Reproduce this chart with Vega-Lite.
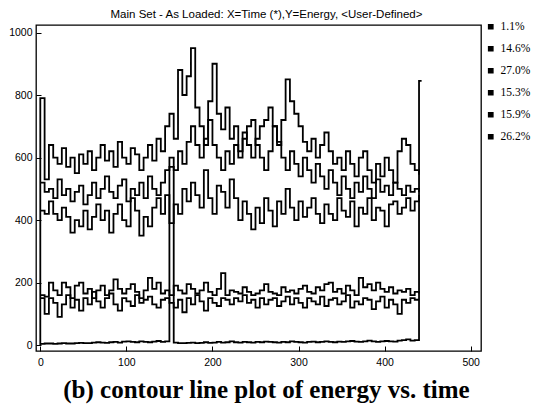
{
  "$schema": "https://vega.github.io/schema/vega-lite/v6.json",
  "autosize": {"type": "none"},
  "width": 445,
  "height": 326,
  "padding": {"left": 36, "top": 25, "right": 53, "bottom": 65},
  "title": {"text": "Main Set - As Loaded: X=Time (*),Y=Energy, <User-Defined>", "fontSize": 11.5, "font": "Liberation Sans", "fontWeight": "normal", "anchor": "middle", "offset": 1, "dx": 8, "color": "black"},
  "config": {"view": {"stroke": "black", "strokeWidth": 1.3}, "axis": {"grid": false, "domainColor": "black", "tickColor": "black", "labelColor": "black", "labelFont": "Liberation Sans", "labelFontSize": 10.5}},
  "datasets": {
    "d": [
      {"s":"1.1%","t":0,"e":4},{"s":"1.1%","t":5,"e":5},{"s":"1.1%","t":10,"e":5},{"s":"1.1%","t":15,"e":4},{"s":"1.1%","t":20,"e":5},{"s":"1.1%","t":25,"e":6},{"s":"1.1%","t":30,"e":5},{"s":"1.1%","t":35,"e":5},{"s":"1.1%","t":40,"e":6},{"s":"1.1%","t":45,"e":7},{"s":"1.1%","t":50,"e":6},{"s":"1.1%","t":55,"e":6},{"s":"1.1%","t":60,"e":8},{"s":"1.1%","t":65,"e":9},{"s":"1.1%","t":70,"e":8},{"s":"1.1%","t":75,"e":7},{"s":"1.1%","t":80,"e":9},{"s":"1.1%","t":85,"e":10},{"s":"1.1%","t":90,"e":8},{"s":"1.1%","t":95,"e":11},{"s":"1.1%","t":100,"e":12},{"s":"1.1%","t":105,"e":10},{"s":"1.1%","t":110,"e":9},{"s":"1.1%","t":115,"e":12},{"s":"1.1%","t":120,"e":10},{"s":"1.1%","t":125,"e":9},{"s":"1.1%","t":130,"e":11},{"s":"1.1%","t":135,"e":13},{"s":"1.1%","t":140,"e":10},{"s":"1.1%","t":145,"e":12},{"s":"1.1%","t":150,"e":570},{"s":"1.1%","t":155,"e":8},{"s":"1.1%","t":160,"e":6},{"s":"1.1%","t":165,"e":6},{"s":"1.1%","t":170,"e":7},{"s":"1.1%","t":175,"e":8},{"s":"1.1%","t":180,"e":6},{"s":"1.1%","t":185,"e":7},{"s":"1.1%","t":190,"e":9},{"s":"1.1%","t":195,"e":7},{"s":"1.1%","t":200,"e":8},{"s":"1.1%","t":205,"e":10},{"s":"1.1%","t":210,"e":8},{"s":"1.1%","t":215,"e":9},{"s":"1.1%","t":220,"e":12},{"s":"1.1%","t":225,"e":9},{"s":"1.1%","t":230,"e":8},{"s":"1.1%","t":235,"e":10},{"s":"1.1%","t":240,"e":9},{"s":"1.1%","t":245,"e":8},{"s":"1.1%","t":250,"e":10},{"s":"1.1%","t":255,"e":9},{"s":"1.1%","t":260,"e":11},{"s":"1.1%","t":265,"e":10},{"s":"1.1%","t":270,"e":9},{"s":"1.1%","t":275,"e":8},{"s":"1.1%","t":280,"e":10},{"s":"1.1%","t":285,"e":9},{"s":"1.1%","t":290,"e":12},{"s":"1.1%","t":295,"e":10},{"s":"1.1%","t":300,"e":9},{"s":"1.1%","t":305,"e":8},{"s":"1.1%","t":310,"e":10},{"s":"1.1%","t":315,"e":11},{"s":"1.1%","t":320,"e":9},{"s":"1.1%","t":325,"e":10},{"s":"1.1%","t":330,"e":12},{"s":"1.1%","t":335,"e":10},{"s":"1.1%","t":340,"e":9},{"s":"1.1%","t":345,"e":11},{"s":"1.1%","t":350,"e":10},{"s":"1.1%","t":355,"e":12},{"s":"1.1%","t":360,"e":13},{"s":"1.1%","t":365,"e":11},{"s":"1.1%","t":370,"e":10},{"s":"1.1%","t":375,"e":12},{"s":"1.1%","t":380,"e":14},{"s":"1.1%","t":385,"e":12},{"s":"1.1%","t":390,"e":10},{"s":"1.1%","t":395,"e":12},{"s":"1.1%","t":400,"e":13},{"s":"1.1%","t":405,"e":12},{"s":"1.1%","t":410,"e":11},{"s":"1.1%","t":415,"e":14},{"s":"1.1%","t":420,"e":16},{"s":"1.1%","t":425,"e":18},{"s":"1.1%","t":430,"e":14},{"s":"1.1%","t":435,"e":16},{"s":"1.1%","t":440,"e":845},{"s":"1.1%","t":443,"e":845},

      {"s":"14.6%","t":0,"e":150},{"s":"14.6%","t":5,"e":100},{"s":"14.6%","t":10,"e":150},{"s":"14.6%","t":15,"e":135},{"s":"14.6%","t":20,"e":90},{"s":"14.6%","t":25,"e":130},{"s":"14.6%","t":30,"e":160},{"s":"14.6%","t":35,"e":120},{"s":"14.6%","t":40,"e":145},{"s":"14.6%","t":45,"e":110},{"s":"14.6%","t":50,"e":150},{"s":"14.6%","t":55,"e":130},{"s":"14.6%","t":60,"e":170},{"s":"14.6%","t":65,"e":140},{"s":"14.6%","t":70,"e":120},{"s":"14.6%","t":75,"e":150},{"s":"14.6%","t":80,"e":165},{"s":"14.6%","t":85,"e":130},{"s":"14.6%","t":90,"e":110},{"s":"14.6%","t":95,"e":150},{"s":"14.6%","t":100,"e":140},{"s":"14.6%","t":105,"e":125},{"s":"14.6%","t":110,"e":160},{"s":"14.6%","t":115,"e":135},{"s":"14.6%","t":120,"e":145},{"s":"14.6%","t":125,"e":155},{"s":"14.6%","t":130,"e":130},{"s":"14.6%","t":135,"e":120},{"s":"14.6%","t":140,"e":145},{"s":"14.6%","t":145,"e":150},{"s":"14.6%","t":150,"e":135},{"s":"14.6%","t":155,"e":120},{"s":"14.6%","t":160,"e":145},{"s":"14.6%","t":165,"e":105},{"s":"14.6%","t":170,"e":150},{"s":"14.6%","t":175,"e":130},{"s":"14.6%","t":180,"e":160},{"s":"14.6%","t":185,"e":140},{"s":"14.6%","t":190,"e":110},{"s":"14.6%","t":195,"e":150},{"s":"14.6%","t":200,"e":135},{"s":"14.6%","t":205,"e":125},{"s":"14.6%","t":210,"e":150},{"s":"14.6%","t":215,"e":145},{"s":"14.6%","t":220,"e":130},{"s":"14.6%","t":225,"e":150},{"s":"14.6%","t":230,"e":140},{"s":"14.6%","t":235,"e":160},{"s":"14.6%","t":240,"e":135},{"s":"14.6%","t":245,"e":145},{"s":"14.6%","t":250,"e":120},{"s":"14.6%","t":255,"e":150},{"s":"14.6%","t":260,"e":130},{"s":"14.6%","t":265,"e":145},{"s":"14.6%","t":270,"e":150},{"s":"14.6%","t":275,"e":125},{"s":"14.6%","t":280,"e":140},{"s":"14.6%","t":285,"e":155},{"s":"14.6%","t":290,"e":130},{"s":"14.6%","t":295,"e":150},{"s":"14.6%","t":300,"e":135},{"s":"14.6%","t":305,"e":120},{"s":"14.6%","t":310,"e":150},{"s":"14.6%","t":315,"e":140},{"s":"14.6%","t":320,"e":130},{"s":"14.6%","t":325,"e":155},{"s":"14.6%","t":330,"e":125},{"s":"14.6%","t":335,"e":145},{"s":"14.6%","t":340,"e":150},{"s":"14.6%","t":345,"e":130},{"s":"14.6%","t":350,"e":140},{"s":"14.6%","t":355,"e":160},{"s":"14.6%","t":360,"e":120},{"s":"14.6%","t":365,"e":140},{"s":"14.6%","t":370,"e":130},{"s":"14.6%","t":375,"e":150},{"s":"14.6%","t":380,"e":145},{"s":"14.6%","t":385,"e":115},{"s":"14.6%","t":390,"e":140},{"s":"14.6%","t":395,"e":155},{"s":"14.6%","t":400,"e":120},{"s":"14.6%","t":405,"e":145},{"s":"14.6%","t":410,"e":130},{"s":"14.6%","t":415,"e":100},{"s":"14.6%","t":420,"e":145},{"s":"14.6%","t":425,"e":135},{"s":"14.6%","t":430,"e":150},{"s":"14.6%","t":435,"e":145},{"s":"14.6%","t":440,"e":145},

      {"s":"15.3%","t":0,"e":160},{"s":"15.3%","t":5,"e":155},{"s":"15.3%","t":10,"e":200},{"s":"15.3%","t":15,"e":175},{"s":"15.3%","t":20,"e":160},{"s":"15.3%","t":25,"e":200},{"s":"15.3%","t":30,"e":185},{"s":"15.3%","t":35,"e":150},{"s":"15.3%","t":40,"e":190},{"s":"15.3%","t":45,"e":200},{"s":"15.3%","t":50,"e":165},{"s":"15.3%","t":55,"e":180},{"s":"15.3%","t":60,"e":150},{"s":"15.3%","t":65,"e":175},{"s":"15.3%","t":70,"e":190},{"s":"15.3%","t":75,"e":160},{"s":"15.3%","t":80,"e":175},{"s":"15.3%","t":85,"e":210},{"s":"15.3%","t":90,"e":180},{"s":"15.3%","t":95,"e":165},{"s":"15.3%","t":100,"e":180},{"s":"15.3%","t":105,"e":195},{"s":"15.3%","t":110,"e":170},{"s":"15.3%","t":115,"e":150},{"s":"15.3%","t":120,"e":175},{"s":"15.3%","t":125,"e":215},{"s":"15.3%","t":130,"e":180},{"s":"15.3%","t":135,"e":200},{"s":"15.3%","t":140,"e":165},{"s":"15.3%","t":145,"e":175},{"s":"15.3%","t":150,"e":160},{"s":"15.3%","t":155,"e":190},{"s":"15.3%","t":160,"e":175},{"s":"15.3%","t":165,"e":165},{"s":"15.3%","t":170,"e":195},{"s":"15.3%","t":175,"e":180},{"s":"15.3%","t":180,"e":165},{"s":"15.3%","t":185,"e":175},{"s":"15.3%","t":190,"e":200},{"s":"15.3%","t":195,"e":170},{"s":"15.3%","t":200,"e":160},{"s":"15.3%","t":205,"e":180},{"s":"15.3%","t":210,"e":230},{"s":"15.3%","t":215,"e":160},{"s":"15.3%","t":220,"e":175},{"s":"15.3%","t":225,"e":170},{"s":"15.3%","t":230,"e":165},{"s":"15.3%","t":235,"e":185},{"s":"15.3%","t":240,"e":170},{"s":"15.3%","t":245,"e":160},{"s":"15.3%","t":250,"e":165},{"s":"15.3%","t":255,"e":175},{"s":"15.3%","t":260,"e":195},{"s":"15.3%","t":265,"e":170},{"s":"15.3%","t":270,"e":165},{"s":"15.3%","t":275,"e":160},{"s":"15.3%","t":280,"e":185},{"s":"15.3%","t":285,"e":170},{"s":"15.3%","t":290,"e":175},{"s":"15.3%","t":295,"e":165},{"s":"15.3%","t":300,"e":180},{"s":"15.3%","t":305,"e":190},{"s":"15.3%","t":310,"e":170},{"s":"15.3%","t":315,"e":165},{"s":"15.3%","t":320,"e":185},{"s":"15.3%","t":325,"e":175},{"s":"15.3%","t":330,"e":195},{"s":"15.3%","t":335,"e":200},{"s":"15.3%","t":340,"e":170},{"s":"15.3%","t":345,"e":180},{"s":"15.3%","t":350,"e":165},{"s":"15.3%","t":355,"e":190},{"s":"15.3%","t":360,"e":175},{"s":"15.3%","t":365,"e":160},{"s":"15.3%","t":370,"e":215},{"s":"15.3%","t":375,"e":185},{"s":"15.3%","t":380,"e":195},{"s":"15.3%","t":385,"e":175},{"s":"15.3%","t":390,"e":200},{"s":"15.3%","t":395,"e":180},{"s":"15.3%","t":400,"e":170},{"s":"15.3%","t":405,"e":185},{"s":"15.3%","t":410,"e":165},{"s":"15.3%","t":415,"e":175},{"s":"15.3%","t":420,"e":170},{"s":"15.3%","t":425,"e":180},{"s":"15.3%","t":430,"e":160},{"s":"15.3%","t":435,"e":170},{"s":"15.3%","t":440,"e":165},

      {"s":"27.0%","t":0,"e":430},{"s":"27.0%","t":5,"e":420},{"s":"27.0%","t":10,"e":460},{"s":"27.0%","t":15,"e":420},{"s":"27.0%","t":20,"e":400},{"s":"27.0%","t":25,"e":440},{"s":"27.0%","t":30,"e":410},{"s":"27.0%","t":35,"e":360},{"s":"27.0%","t":40,"e":400},{"s":"27.0%","t":45,"e":380},{"s":"27.0%","t":50,"e":430},{"s":"27.0%","t":55,"e":370},{"s":"27.0%","t":60,"e":410},{"s":"27.0%","t":65,"e":450},{"s":"27.0%","t":70,"e":400},{"s":"27.0%","t":75,"e":430},{"s":"27.0%","t":80,"e":360},{"s":"27.0%","t":85,"e":420},{"s":"27.0%","t":90,"e":450},{"s":"27.0%","t":95,"e":400},{"s":"27.0%","t":100,"e":380},{"s":"27.0%","t":105,"e":470},{"s":"27.0%","t":110,"e":430},{"s":"27.0%","t":115,"e":350},{"s":"27.0%","t":120,"e":410},{"s":"27.0%","t":125,"e":380},{"s":"27.0%","t":130,"e":440},{"s":"27.0%","t":135,"e":470},{"s":"27.0%","t":140,"e":420},{"s":"27.0%","t":145,"e":480},{"s":"27.0%","t":150,"e":390},{"s":"27.0%","t":155,"e":450},{"s":"27.0%","t":160,"e":420},{"s":"27.0%","t":165,"e":500},{"s":"27.0%","t":170,"e":460},{"s":"27.0%","t":175,"e":520},{"s":"27.0%","t":180,"e":480},{"s":"27.0%","t":185,"e":440},{"s":"27.0%","t":190,"e":560},{"s":"27.0%","t":195,"e":470},{"s":"27.0%","t":200,"e":420},{"s":"27.0%","t":205,"e":510},{"s":"27.0%","t":210,"e":490},{"s":"27.0%","t":215,"e":440},{"s":"27.0%","t":220,"e":530},{"s":"27.0%","t":225,"e":470},{"s":"27.0%","t":230,"e":400},{"s":"27.0%","t":235,"e":460},{"s":"27.0%","t":240,"e":420},{"s":"27.0%","t":245,"e":370},{"s":"27.0%","t":250,"e":440},{"s":"27.0%","t":255,"e":390},{"s":"27.0%","t":260,"e":470},{"s":"27.0%","t":265,"e":430},{"s":"27.0%","t":270,"e":380},{"s":"27.0%","t":275,"e":460},{"s":"27.0%","t":280,"e":420},{"s":"27.0%","t":285,"e":500},{"s":"27.0%","t":290,"e":440},{"s":"27.0%","t":295,"e":400},{"s":"27.0%","t":300,"e":460},{"s":"27.0%","t":305,"e":410},{"s":"27.0%","t":310,"e":440},{"s":"27.0%","t":315,"e":470},{"s":"27.0%","t":320,"e":420},{"s":"27.0%","t":325,"e":390},{"s":"27.0%","t":330,"e":450},{"s":"27.0%","t":335,"e":420},{"s":"27.0%","t":340,"e":400},{"s":"27.0%","t":345,"e":470},{"s":"27.0%","t":350,"e":430},{"s":"27.0%","t":355,"e":410},{"s":"27.0%","t":360,"e":460},{"s":"27.0%","t":365,"e":380},{"s":"27.0%","t":370,"e":440},{"s":"27.0%","t":375,"e":420},{"s":"27.0%","t":380,"e":470},{"s":"27.0%","t":385,"e":400},{"s":"27.0%","t":390,"e":440},{"s":"27.0%","t":395,"e":430},{"s":"27.0%","t":400,"e":380},{"s":"27.0%","t":405,"e":450},{"s":"27.0%","t":410,"e":460},{"s":"27.0%","t":415,"e":420},{"s":"27.0%","t":420,"e":440},{"s":"27.0%","t":425,"e":470},{"s":"27.0%","t":430,"e":430},{"s":"27.0%","t":435,"e":460},{"s":"27.0%","t":440,"e":480},

      {"s":"15.9%","t":0,"e":520},{"s":"15.9%","t":5,"e":490},{"s":"15.9%","t":10,"e":500},{"s":"15.9%","t":15,"e":470},{"s":"15.9%","t":20,"e":530},{"s":"15.9%","t":25,"e":480},{"s":"15.9%","t":30,"e":500},{"s":"15.9%","t":35,"e":460},{"s":"15.9%","t":40,"e":490},{"s":"15.9%","t":45,"e":510},{"s":"15.9%","t":50,"e":450},{"s":"15.9%","t":55,"e":480},{"s":"15.9%","t":60,"e":520},{"s":"15.9%","t":65,"e":470},{"s":"15.9%","t":70,"e":500},{"s":"15.9%","t":75,"e":540},{"s":"15.9%","t":80,"e":490},{"s":"15.9%","t":85,"e":470},{"s":"15.9%","t":90,"e":510},{"s":"15.9%","t":95,"e":530},{"s":"15.9%","t":100,"e":460},{"s":"15.9%","t":105,"e":500},{"s":"15.9%","t":110,"e":480},{"s":"15.9%","t":115,"e":520},{"s":"15.9%","t":120,"e":470},{"s":"15.9%","t":125,"e":540},{"s":"15.9%","t":130,"e":500},{"s":"15.9%","t":135,"e":480},{"s":"15.9%","t":140,"e":520},{"s":"15.9%","t":145,"e":560},{"s":"15.9%","t":150,"e":600},{"s":"15.9%","t":155,"e":560},{"s":"15.9%","t":160,"e":620},{"s":"15.9%","t":165,"e":580},{"s":"15.9%","t":170,"e":650},{"s":"15.9%","t":175,"e":700},{"s":"15.9%","t":180,"e":640},{"s":"15.9%","t":185,"e":600},{"s":"15.9%","t":190,"e":660},{"s":"15.9%","t":195,"e":720},{"s":"15.9%","t":200,"e":640},{"s":"15.9%","t":205,"e":600},{"s":"15.9%","t":210,"e":560},{"s":"15.9%","t":215,"e":620},{"s":"15.9%","t":220,"e":580},{"s":"15.9%","t":225,"e":640},{"s":"15.9%","t":230,"e":600},{"s":"15.9%","t":235,"e":660},{"s":"15.9%","t":240,"e":700},{"s":"15.9%","t":245,"e":720},{"s":"15.9%","t":250,"e":640},{"s":"15.9%","t":255,"e":600},{"s":"15.9%","t":260,"e":560},{"s":"15.9%","t":265,"e":620},{"s":"15.9%","t":270,"e":700},{"s":"15.9%","t":275,"e":650},{"s":"15.9%","t":280,"e":600},{"s":"15.9%","t":285,"e":560},{"s":"15.9%","t":290,"e":620},{"s":"15.9%","t":295,"e":580},{"s":"15.9%","t":300,"e":540},{"s":"15.9%","t":305,"e":600},{"s":"15.9%","t":310,"e":560},{"s":"15.9%","t":315,"e":520},{"s":"15.9%","t":320,"e":580},{"s":"15.9%","t":325,"e":540},{"s":"15.9%","t":330,"e":500},{"s":"15.9%","t":335,"e":560},{"s":"15.9%","t":340,"e":520},{"s":"15.9%","t":345,"e":480},{"s":"15.9%","t":350,"e":540},{"s":"15.9%","t":355,"e":500},{"s":"15.9%","t":360,"e":470},{"s":"15.9%","t":365,"e":520},{"s":"15.9%","t":370,"e":490},{"s":"15.9%","t":375,"e":540},{"s":"15.9%","t":380,"e":500},{"s":"15.9%","t":385,"e":470},{"s":"15.9%","t":390,"e":530},{"s":"15.9%","t":395,"e":490},{"s":"15.9%","t":400,"e":510},{"s":"15.9%","t":405,"e":480},{"s":"15.9%","t":410,"e":520},{"s":"15.9%","t":415,"e":500},{"s":"15.9%","t":420,"e":480},{"s":"15.9%","t":425,"e":510},{"s":"15.9%","t":430,"e":490},{"s":"15.9%","t":435,"e":500},{"s":"15.9%","t":440,"e":490},

      {"s":"26.2%","t":0,"e":0},{"s":"26.2%","t":0,"e":790},{"s":"26.2%","t":5,"e":530},{"s":"26.2%","t":10,"e":640},{"s":"26.2%","t":15,"e":600},{"s":"26.2%","t":20,"e":580},{"s":"26.2%","t":25,"e":630},{"s":"26.2%","t":30,"e":570},{"s":"26.2%","t":35,"e":600},{"s":"26.2%","t":40,"e":550},{"s":"26.2%","t":45,"e":610},{"s":"26.2%","t":50,"e":580},{"s":"26.2%","t":55,"e":620},{"s":"26.2%","t":60,"e":560},{"s":"26.2%","t":65,"e":600},{"s":"26.2%","t":70,"e":640},{"s":"26.2%","t":75,"e":590},{"s":"26.2%","t":80,"e":620},{"s":"26.2%","t":85,"e":570},{"s":"26.2%","t":90,"e":650},{"s":"26.2%","t":95,"e":600},{"s":"26.2%","t":100,"e":580},{"s":"26.2%","t":105,"e":630},{"s":"26.2%","t":110,"e":610},{"s":"26.2%","t":115,"e":560},{"s":"26.2%","t":120,"e":600},{"s":"26.2%","t":125,"e":640},{"s":"26.2%","t":130,"e":590},{"s":"26.2%","t":135,"e":660},{"s":"26.2%","t":140,"e":620},{"s":"26.2%","t":145,"e":700},{"s":"26.2%","t":150,"e":740},{"s":"26.2%","t":155,"e":660},{"s":"26.2%","t":160,"e":880},{"s":"26.2%","t":165,"e":800},{"s":"26.2%","t":170,"e":860},{"s":"26.2%","t":175,"e":950},{"s":"26.2%","t":180,"e":760},{"s":"26.2%","t":185,"e":700},{"s":"26.2%","t":190,"e":640},{"s":"26.2%","t":195,"e":780},{"s":"26.2%","t":200,"e":900},{"s":"26.2%","t":205,"e":740},{"s":"26.2%","t":210,"e":690},{"s":"26.2%","t":215,"e":760},{"s":"26.2%","t":220,"e":660},{"s":"26.2%","t":225,"e":700},{"s":"26.2%","t":230,"e":620},{"s":"26.2%","t":235,"e":680},{"s":"26.2%","t":240,"e":640},{"s":"26.2%","t":245,"e":600},{"s":"26.2%","t":250,"e":660},{"s":"26.2%","t":255,"e":700},{"s":"26.2%","t":260,"e":720},{"s":"26.2%","t":265,"e":760},{"s":"26.2%","t":270,"e":700},{"s":"26.2%","t":275,"e":640},{"s":"26.2%","t":280,"e":720},{"s":"26.2%","t":285,"e":850},{"s":"26.2%","t":290,"e":780},{"s":"26.2%","t":295,"e":740},{"s":"26.2%","t":300,"e":700},{"s":"26.2%","t":305,"e":650},{"s":"26.2%","t":310,"e":620},{"s":"26.2%","t":315,"e":660},{"s":"26.2%","t":320,"e":600},{"s":"26.2%","t":325,"e":640},{"s":"26.2%","t":330,"e":680},{"s":"26.2%","t":335,"e":620},{"s":"26.2%","t":340,"e":580},{"s":"26.2%","t":345,"e":600},{"s":"26.2%","t":350,"e":560},{"s":"26.2%","t":355,"e":620},{"s":"26.2%","t":360,"e":580},{"s":"26.2%","t":365,"e":540},{"s":"26.2%","t":370,"e":600},{"s":"26.2%","t":375,"e":620},{"s":"26.2%","t":380,"e":560},{"s":"26.2%","t":385,"e":520},{"s":"26.2%","t":390,"e":580},{"s":"26.2%","t":395,"e":540},{"s":"26.2%","t":400,"e":600},{"s":"26.2%","t":405,"e":560},{"s":"26.2%","t":410,"e":520},{"s":"26.2%","t":415,"e":620},{"s":"26.2%","t":420,"e":660},{"s":"26.2%","t":425,"e":640},{"s":"26.2%","t":430,"e":580},{"s":"26.2%","t":435,"e":560},{"s":"26.2%","t":440,"e":545}
    ]
  },
  "data": {"name": "d"},
  "mark": {"type": "line", "interpolate": "step-after", "strokeWidth": 1.8},
  "encoding": {
    "x": {"field": "t", "type": "quantitative", "scale": {"domain": [-5, 512], "nice": false, "zero": false}, "axis": {"values": [0, 100, 200, 300, 400, 500], "format": "d", "tickSize": -5, "labelPadding": 11, "domain": false, "title": "(b) contour line plot of energy vs. time", "titleFont": "Liberation Serif", "titleFontSize": 25, "titleFontWeight": "bold", "titleColor": "black", "titleX": 230, "titleY": 46, "titleAlign": "center", "titleBaseline": "alphabetic", "titleAnchor": null}},
    "y": {"field": "e", "type": "quantitative", "scale": {"domain": [-19, 1024], "nice": false, "zero": false}, "axis": {"values": [0, 200, 400, 600, 800, 1000], "format": "d", "tickSize": -5, "labelPadding": 9, "domain": false, "title": null}},
    "detail": {"field": "s", "type": "nominal"},
    "color": {"field": "s", "type": "nominal", "scale": {"domain": ["1.1%", "14.6%", "27.0%", "15.3%", "15.9%", "26.2%"], "range": ["black", "black", "black", "black", "black", "black"]}, "legend": {"title": null, "orient": "none", "legendX": 449, "legendY": -4, "symbolType": "square", "symbolFillColor": "black", "symbolStrokeColor": "black", "symbolSize": 18, "labelOffset": 4, "labelFont": "Liberation Serif", "labelFontSize": 11.5, "labelColor": "black", "rowPadding": 9}}
  }
}
